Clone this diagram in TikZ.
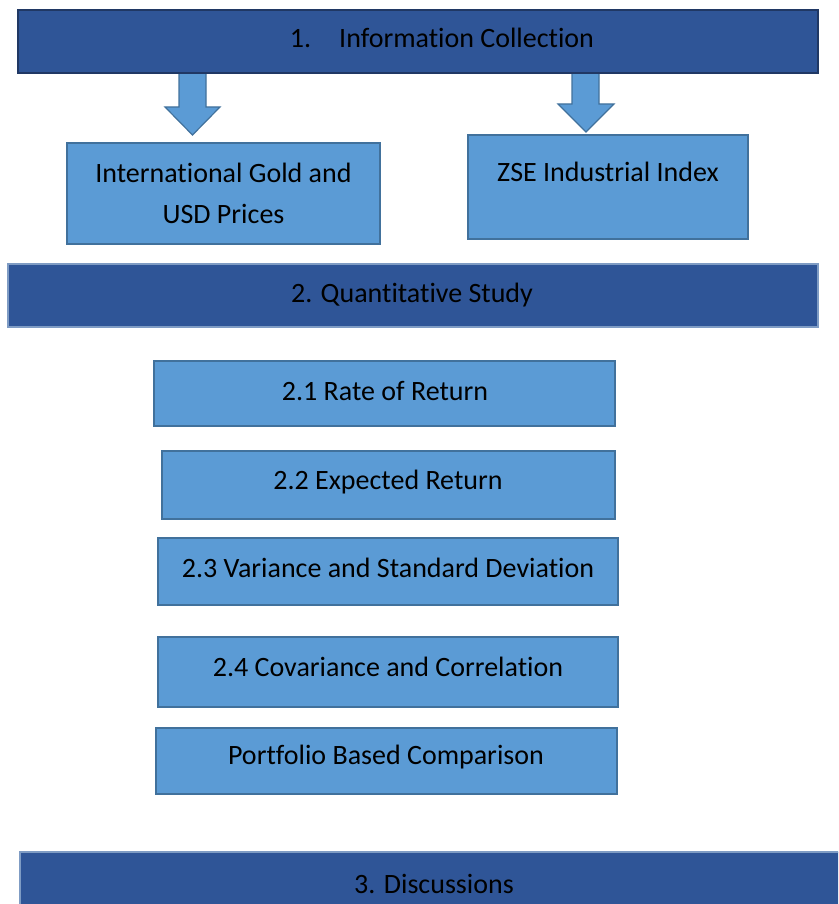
\documentclass[tikz,border=0pt]{standalone}
\usepackage{fontspec}
\setmainfont{Carlito}[Ligatures=NoCommon]
\definecolor{darkfill}{HTML}{2F5597}
\definecolor{darkline}{HTML}{203864}
\definecolor{paleline}{HTML}{7F9CC4}
\definecolor{lightfill}{HTML}{5B9BD5}
\definecolor{lightline}{HTML}{41719C}
\tikzset{
  headbox/.style={draw=darkline, line width=1.6pt, fill=darkfill, inner sep=0pt},
  headbox2/.style={draw=paleline, line width=1.6pt, fill=darkfill, inner sep=0pt},
  lightbox/.style={draw=lightline, line width=1.6pt, fill=lightfill, inner sep=0pt},
  blockarrow/.style={draw=lightline, line width=1.2pt, fill=lightfill, line join=miter},
  txt/.style={font=\fontsize{28}{41}\selectfont, text=black, inner sep=0pt}
}
\begin{document}
\begin{tikzpicture}[x=1pt,y=-1pt]
\useasboundingbox (0,0) rectangle (838,904);
\clip (0,0) rectangle (838,904);
% block arrows
\draw[blockarrow] (179,73) -- (206,73) -- (206,107) -- (220,107) -- (192.5,135) -- (165,107) -- (179,107) -- cycle;
\draw[blockarrow] (572,73) -- (599,73) -- (599,104) -- (614,104) -- (586,132) -- (558,104) -- (572,104) -- cycle;
% header 1
\draw[headbox] (18,10) rectangle (818,73);
\node[txt] (h1) at (442,38) {1.\hspace{28pt}Information Collection};
% sub boxes
\node[lightbox, minimum width=313pt, minimum height=101pt] (gold) at (223.5,193.5) {};
\node[txt, align=center] (goldt) at (223.5,193) {International Gold and\\USD Prices};
\node[lightbox, minimum width=280pt, minimum height=104pt] (zse) at (608,187) {};
\node[txt] (zset) at (608,172) {ZSE Industrial Index};
% header 2
\node[headbox2, minimum width=810pt, minimum height=63pt] (h2) at (413,295.5) {};
\node[txt] (h2t) at (412,295) {2. Quantitative Study};
% steps
\node[lightbox, minimum width=461pt, minimum height=65pt] (s1) at (384.5,393.5) {};
\node[txt] (s1t) at (385,391) {2.1 Rate of Return};
\node[lightbox, minimum width=453pt, minimum height=68pt] (s2) at (388.5,485) {};
\node[txt] (s2t) at (388,482) {2.2 Expected Return};
\node[lightbox, minimum width=460pt, minimum height=67pt] (s3) at (388,571.5) {};
\node[txt] (s3t) at (388,568) {2.3 Variance and Standard Deviation};
\node[lightbox, minimum width=460pt, minimum height=70pt] (s4) at (388,672) {};
\node[txt] (s4t) at (388,667) {2.4 Covariance and Correlation};
\node[lightbox, minimum width=461pt, minimum height=66pt] (s5) at (386.5,761) {};
\node[txt] (s5t) at (386,757) {Portfolio Based Comparison};
% header 3
\draw[headbox2] (20,852) rectangle (850,915);
\node[txt] (h3t) at (434,884) {3. Discussions};
\end{tikzpicture}
\end{document}
